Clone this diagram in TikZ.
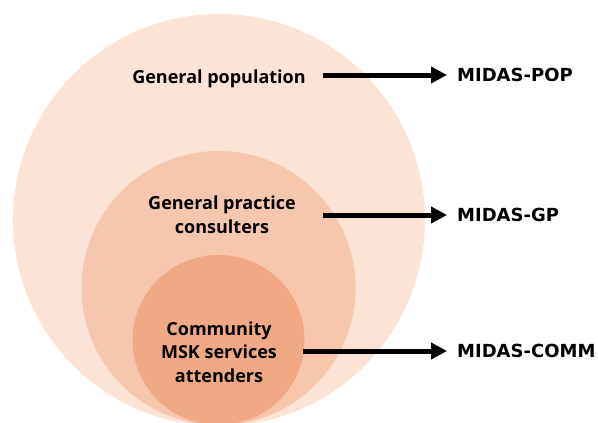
\documentclass[tikz,border=0pt]{standalone}
\usepackage{fontspec}
\setmainfont{Open Sans}
\newfontfamily\midasfont{DejaVu Sans}
\usetikzlibrary{arrows.meta}
\definecolor{popc}{HTML}{FBE3D6}
\definecolor{gpc}{HTML}{F6C6AD}
\definecolor{commc}{HTML}{F1A983}
\begin{document}
\begin{tikzpicture}[x=1pt,y=-1pt,
  grouplabel/.style={font=\fontsize{18}{23.5}\selectfont\bfseries, align=center, inner sep=0pt, text=black},
  midaslabel/.style={font=\fontsize{18}{22}\midasfont\bfseries, anchor=base west, inner sep=0pt, text=black},
  bigarrow/.style={line width=5pt, -{Triangle[length=16pt,width=16pt]}, shorten >=10pt}]
\useasboundingbox (0,0) rectangle (598,423);
\fill[white] (0,0) rectangle (598,423);
\fill[popc] (219,220) ellipse [x radius=206, y radius=206];
\fill[gpc] (218.5,288) ellipse [x radius=137, y radius=137];
\fill[commc] (218.5,340) ellipse [x radius=86, y radius=85];
\node[grouplabel, anchor=base] (poplab) at (219,83) {General population};
\node[grouplabel] (gplab) at (222,214.5) {General practice\\consulters};
\node[grouplabel] (commlab) at (219,352) {Community\\MSK services\\attenders};
\node[midaslabel] (pop) at (457,81) {MIDAS-POP};
\node[midaslabel] (gp) at (457,221) {MIDAS-GP};
\node[midaslabel] (comm) at (457,357) {MIDAS-COMM};
\coordinate (popstart) at (323,75);
\coordinate (gpstart) at (323,215);
\coordinate (commstart) at (303,351);
\draw[bigarrow] (popstart) -- (popstart -| pop.west);
\draw[bigarrow] (gpstart) -- (gpstart -| gp.west);
\draw[bigarrow] (commstart) -- (commstart -| comm.west);
\end{tikzpicture}
\end{document}
